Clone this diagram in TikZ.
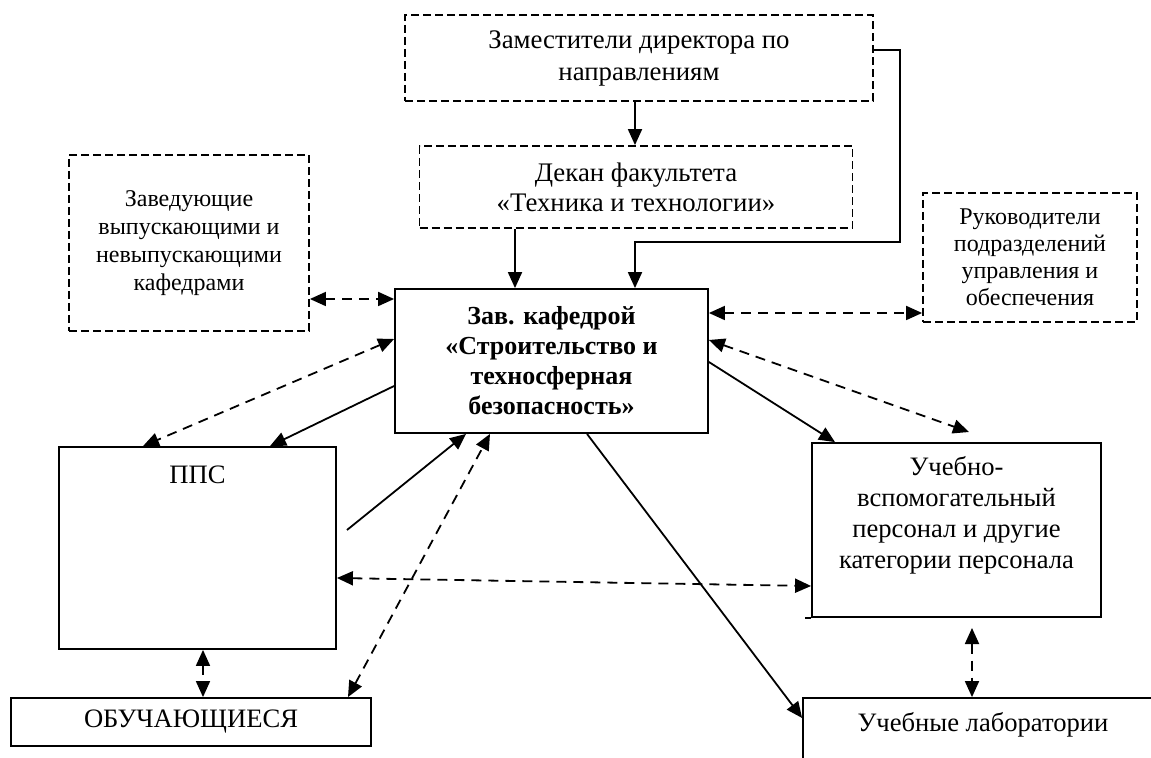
\documentclass[tikz,border=0pt]{standalone}
\usepackage{fontspec}
\setmainfont{Liberation Serif}
\usetikzlibrary{arrows.meta}

\tikzset{
    box/.style    = {draw, line width = 0.9pt, inner sep = 0pt, align = center},
    dbox/.style   = {box, dash pattern = on 4pt off 2pt},
    tip/.tip      = {Triangle[length = 8pt, width = 7pt]},
    arr/.style    = {line width = 0.9pt, -tip},
    darr/.style   = {line width = 0.9pt, dash pattern = on 5pt off 3.5pt, tip-tip},
    fzam/.style   = {font = \fontsize{13.4}{16}\selectfont},
    fdek/.style   = {font = \fontsize{13.4}{15}\selectfont},
    fsm/.style    = {font = \fontsize{12}{14}\selectfont},
    fruk/.style   = {font = \fontsize{12}{13.5}\selectfont},
    fhead/.style  = {font = \fontsize{13}{15}\bfseries\selectfont},
    fbig/.style   = {font = \fontsize{13.3}{15.5}\selectfont, align = center},
}

\begin{document}
\begin{tikzpicture}[x = 0.5pt, y = -0.5pt]

% marco
\useasboundingbox (0,0) rectangle (1151,758);
\clip (0,0) rectangle (1151,758);

% bloques superiores
\node[dbox, fzam, minimum width = 234pt, minimum height = 43pt]
    (zam) at (639,58) {Заместители директора по\\направлениям};
\node[dbox, fdek, minimum width = 216.5pt, minimum height = 41pt]
    (dekan) at (636,187) {Декан факультета\\«Техника и технологии»};
\node[dbox, fsm, minimum width = 120pt, minimum height = 88pt]
    (zav) at (189,243) {Заведующие\\выпускающими и\\невыпускающими\\кафедрами};
\node[dbox, fruk, minimum width = 107pt, minimum height = 64.5pt]
    (ruk) at (1030,257.5) {Руководители\\подразделений\\управления и\\обеспечения};

% bloque central
\node[box, fhead, minimum width = 156.5pt, minimum height = 72pt]
    (head) at (551.5,361) {Зав. кафедрой\\«Строительство и\\техносферная\\безопасность»};

% bloques inferiores
\node[box, minimum width = 138.5pt, minimum height = 101pt,
      label = {[fbig, yshift = 36.5pt]center:ППС}]
    (pps) at (197.5,548) {};
\node[box, fbig, minimum width = 180pt, minimum height = 24pt]
    (obuch) at (191,722) {ОБУЧАЮЩИЕСЯ};
\node[box, minimum width = 144.5pt, minimum height = 87pt,
      label = {[fbig, yshift = 7.25pt]center:{Учебно-\\вспомогательный\\персонал и другие\\категории персонала}}]
    (uvp) at (956.5,530) {};
\draw[line width = 0.9pt] (uvp.south west) -- ++(-6,0);
\node[box, minimum width = 183.5pt, minimum height = 46pt,
      label = {[fbig, xshift = -1.75pt, yshift = 9.5pt]center:Учебные лаборатории}]
    (lab) at (986.5,744) {};

% puntos auxiliares
\coordinate (bend)   at (900,242);
\coordinate (ppsout) at (347,530);
\coordinate (uvpin)  at (969,432);
\coordinate (uvpout) at (972,628);

% flechas continuas
\draw[arr] (zam.south -| 635,0) -- (dekan.north -| 635,0);
\draw[arr] (dekan.south -| 515,0) -- (head.north -| 515,0);
\draw[arr] (zam.east |- 0,50) -| (bend) -| (head.north -| 635,0);
\draw[arr] (head.west |- 0,386) -- (pps.north -| 270,0);
\draw[arr] (ppsout) -- (head.south -| 466,0);
\draw[arr] (head.east |- 0,362) -- (uvp.north -| 835,0);
\draw[arr] (head.south -| 587,0) -- (lab.west |- 0,718);

% flechas discontinuas
\draw[darr] (zav.east |- 0,299) -- (head.west |- 0,299);
\draw[darr] (head.east |- 0,313) -- (ruk.west |- 0,313);
\draw[darr] (head.west |- 0,339) -- (pps.north -| 143,0);
\draw[darr] (obuch.north -| 348,0) -- (head.south -| 490,0);
\draw[darr] (pps.east |- 0,578) -- (uvp.west |- 0,586);
\draw[darr] (head.east |- 0,340) -- (uvpin);
\draw[darr] (uvpout) -- (lab.north -| 972,0);
\draw[darr] (pps.south -| 203,0) -- (obuch.north -| 203,0);

\end{tikzpicture}
\end{document}
